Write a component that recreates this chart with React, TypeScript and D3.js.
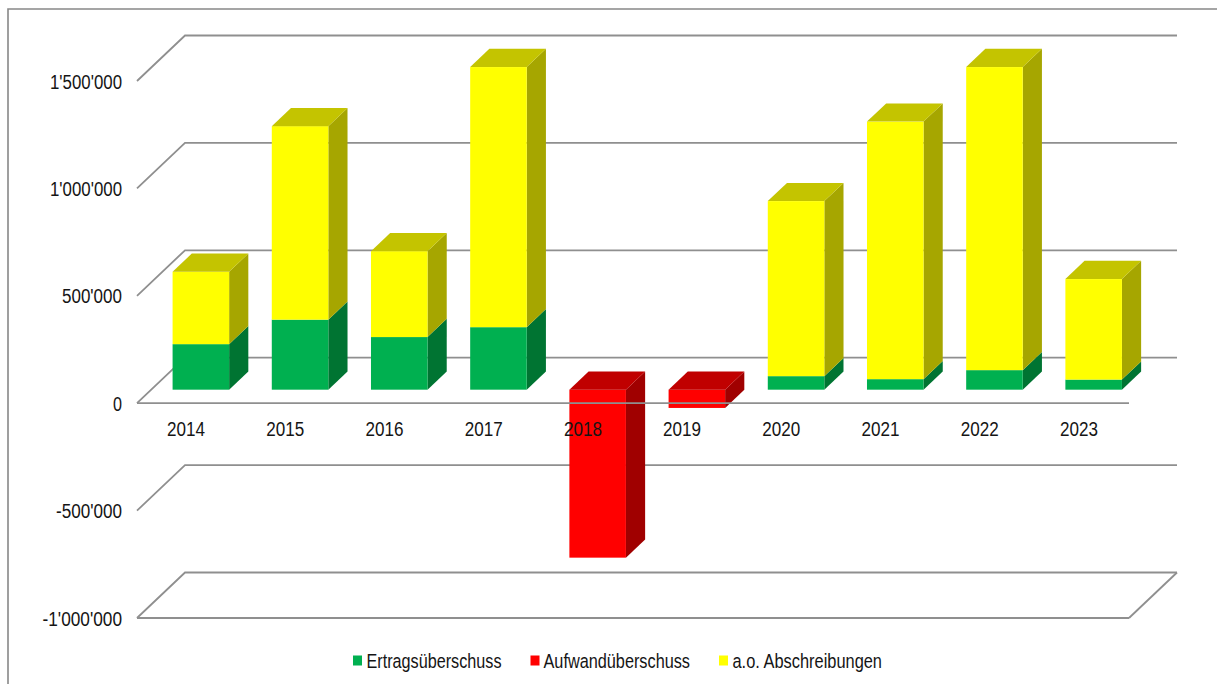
import React from "react";
import * as d3 from "d3";

const years = ["2014","2015","2016","2017","2018","2019","2020","2021","2022","2023"];
const ertrag = [212000,326000,245000,291000,0,0,63000,49000,91000,47000];
const aufwand = [0,0,0,0,-782000,-85000,0,0,0,0];
const abschreibungen = [337000,901000,400000,1211000,0,0,815000,1199000,1411000,468000];
const yTicks = [-1000000,-500000,0,500000,1000000,1500000];
const legendItems = ["Ertragsüberschuss","Aufwandüberschuss","a.o. Abschreibungen"];
const legendX = [353,530.5,719];
const legendTextX = [366.5,543.5,732.5];
const legendTextW = [135,146.5,149.5];

const WIDTH = 1217, HEIGHT = 684;
const DX = 48, DY = -45.5;
const BAR_Z0 = 0.297, BAR_Z1 = 0.697;
const FONT = "'Liberation Sans', Arial, sans-serif";
const GRID = "#8f8f8f";
const INK = "#151515";

const colors = {
  green: { front: "#00b050", side: "#007432", top: "#009040" },
  red: { front: "#ff0000", side: "#a00000", top: "#c00000" },
  yellow: { front: "#ffff00", side: "#a6a600", top: "#c4c400" },
};

const y = d3.scaleLinear().domain([-1000000, 1500000]).range([618, 81]);
const x = d3.scaleBand<string>().domain(years).range([137, 1129]).paddingInner(0.43).paddingOuter(0.215);
const fmt = (v: number) => d3.format(",")(v).replace(/,/g, "'").replace("−", "-");
const poly = (pts: number[][]) => pts.map((p) => p.join(",")).join(" ");

type Seg = { lo: number; hi: number; c: { front: string; side: string; top: string }; isTop: boolean };

function Bar({ year, segs }: { year: string; segs: Seg[] }) {
  const xl = (x(year) as number) + DX * BAR_Z0;
  const w = x.bandwidth();
  const y0 = (v: number) => y(v) + DY * BAR_Z0;
  const ddx = DX * (BAR_Z1 - BAR_Z0), ddy = DY * (BAR_Z1 - BAR_Z0);
  return (
    <g>
      {segs.map((s, i) => {
        const t = y0(s.hi), b = y0(s.lo), r = xl + w;
        return (
          <g key={i}>
            <polygon points={poly([[r, t], [r + ddx, t + ddy], [r + ddx, b + ddy], [r, b]])} fill={s.c.side} />
            <rect x={xl} y={t} width={w} height={b - t} fill={s.c.front} />
            {s.isTop && (
              <polygon points={poly([[xl, t], [xl + ddx, t + ddy], [r + ddx, t + ddy], [r, t]])} fill={s.c.top} />
            )}
          </g>
        );
      })}
    </g>
  );
}

function Label({ x: px, y: py, w, anchor, children }: { x: number; y: number; w: number; anchor?: string; children: React.ReactNode }) {
  return (
    <text x={px} y={py} textLength={w} lengthAdjust="spacingAndGlyphs" textAnchor={anchor ?? "start"} fontFamily={FONT} fontSize={20.5} fill={INK}>
      {children}
    </text>
  );
}

export default function App() {
  const left = 137, right = 1129;
  const sw = 1.8;
  return (
    <svg width={WIDTH} height={HEIGHT} style={{ position: "absolute", left: 0, top: 0, display: "block", background: "#fff" }}>
      <path d={`M8,${HEIGHT} V9 H${WIDTH}`} fill="none" stroke="#888" strokeWidth={1.6} />
      {yTicks.map((t) => (
        <g key={t} fill="none" stroke={GRID} strokeWidth={sw}>
          <path d={`M${left},${y(t)} L${left + DX},${y(t) + DY} H${right + DX}`} />
        </g>
      ))}
      <path d={`M${right},${y(-1000000)} L${right + DX},${y(-1000000) + DY}`} stroke={GRID} strokeWidth={sw} fill="none" />
      {years.map((yr, i) => {
        const segs: Seg[] = [];
        if (aufwand[i] < 0) segs.push({ lo: aufwand[i], hi: 0, c: colors.red, isTop: true });
        if (ertrag[i] > 0) segs.push({ lo: 0, hi: ertrag[i], c: colors.green, isTop: false });
        if (abschreibungen[i] > 0) segs.push({ lo: ertrag[i], hi: ertrag[i] + abschreibungen[i], c: colors.yellow, isTop: true });
        return <Bar key={yr} year={yr} segs={segs} />;
      })}
      <path d={`M${left},${y(0)} H${right}`} stroke={GRID} strokeWidth={sw} fill="none" />
      <path d={`M${left},${y(-1000000)} H${right}`} stroke={GRID} strokeWidth={sw} fill="none" />
      {yTicks.map((t) => {
        const s = fmt(t);
        const w = t === 0 ? 9 : t === -1000000 ? 79.5 : t === -500000 ? 66 : t === 500000 ? 60 : 72;
        return <Label key={t} x={122} y={y(t) + 7.5} w={w} anchor="end">{s}</Label>;
      })}
      {years.map((yr) => (
        <Label key={yr} x={(x(yr) as number) + x.bandwidth() / 2 - 0.5} y={435.5} w={38} anchor="middle">{yr}</Label>
      ))}
      {legendItems.map((name, i) => (
        <g key={name}>
          <rect x={legendX[i]} y={655.5} width={9} height={10} fill={[colors.green, colors.red, colors.yellow][i].front} />
          <Label x={legendTextX[i]} y={667.5} w={legendTextW[i]}>{name}</Label>
        </g>
      ))}
    </svg>
  );
}
